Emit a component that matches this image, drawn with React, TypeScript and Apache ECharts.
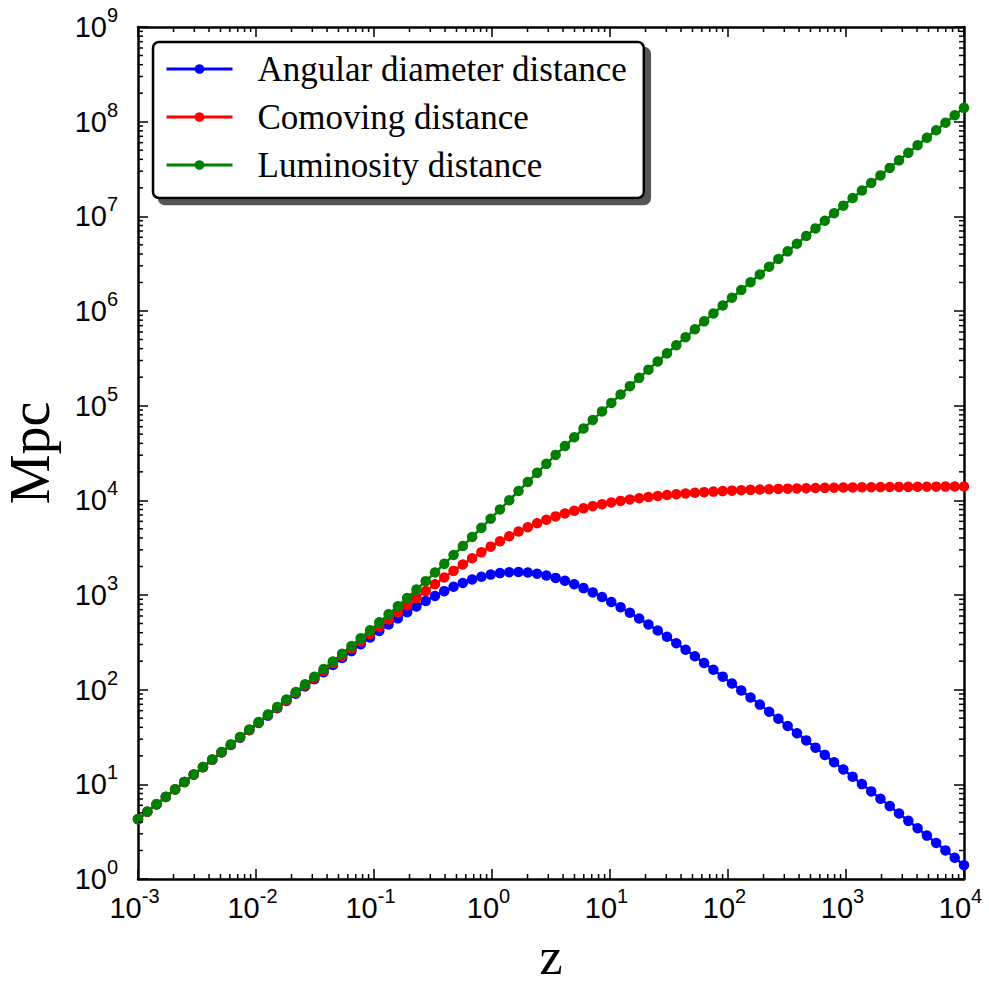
import React, { useEffect, useRef } from 'react';
import * as echarts from 'echarts';

// Redshift sample points (log-spaced)
const zValues = [
  0.001, 0.0011985, 0.0014365, 0.0017217, 0.0020635, 0.0024732, 0.0029642, 0.0035527, 0.0042581, 0.0051035,
  0.0061168, 0.0073312, 0.0087866, 0.010531, 0.012622, 0.015128, 0.018131, 0.021731, 0.026045, 0.031216,
  0.037414, 0.044842, 0.053744, 0.064413, 0.077205, 0.092532, 0.1109, 0.13292, 0.15931, 0.19094,
  0.22884, 0.27428, 0.32874, 0.39401, 0.47223, 0.56599, 0.67836, 0.81304, 0.97445, 1.1679,
  1.3998, 1.6778, 2.0108, 2.41, 2.8885, 3.462, 4.1493, 4.9731, 5.9605, 7.1438,
  8.5622, 10.262, 12.3, 14.742, 17.668, 21.176, 25.38, 30.42, 36.459, 43.698,
  52.373, 62.769, 75.233, 90.171, 108.07, 129.53, 155.24, 186.07, 223.01, 267.28,
  320.35, 383.95, 460.18, 551.54, 661.05, 792.29, 949.58, 1138.1, 1364, 1634.8,
  1959.4, 2348.5, 2814.8, 3373.6, 4043.4, 4846.1, 5808.2, 6961.6, 8343.7, 10000,
];

const angularDiameterDistance = [
  4.2774, 5.1253, 6.1413, 7.358, 8.8151, 10.56, 12.649, 15.149, 18.142, 21.721,
  26.001, 31.117, 37.229, 44.525, 53.231, 63.606, 75.954, 90.641, 108.07, 128.73,
  153.14, 181.93, 215.76, 255.36, 301.53, 355.04, 416.65, 487.08, 566.83, 656.19,
  755.0, 862.64, 977.75, 1098.1, 1220.6, 1341.3, 1455.3, 1557.2, 1641.6, 1703.6,
  1739.3, 1746.7, 1725.6, 1677.7, 1606.4, 1516.2, 1412.2, 1299.3, 1182.4, 1065.4,
  951.5, 843.13, 741.87, 648.8, 564.36, 488.54, 421.15, 361.71, 309.66, 264.35,
  225.1, 191.26, 162.18, 137.29, 116.05, 97.954, 82.588, 69.553, 58.523, 49.202,
  41.333, 34.7, 29.113, 24.413, 20.462, 17.143, 14.357, 12.019, 10.06, 8.4167,
  7.0401, 5.8872, 4.9222, 4.1147, 3.439, 2.8739, 2.4013, 2.006, 1.6757, 1.3997,
];

const comovingDistance = [
  4.2817, 5.1314, 6.1501, 7.3707, 8.8333, 10.586, 12.686, 15.203, 18.219, 21.832,
  26.16, 31.346, 37.556, 44.994, 53.903, 64.568, 77.331, 92.61, 110.89, 132.75,
  158.87, 190.09, 227.36, 271.81, 324.81, 387.89, 462.85, 551.82, 657.14, 781.48,
  927.77, 1099.3, 1299.2, 1530.7, 1797.0, 2100.5, 2442.5, 2823.2, 3241.2, 3693.2,
  4174.0, 4677.4, 5195.4, 5720.9, 6246.4, 6765.2, 7271.6, 7761.1, 8230.2, 8676.5,
  9098.5, 9495.3, 9866.9, 10213, 10535, 10834, 11110, 11365, 11600, 11816,
  12014, 12196, 12364, 12517, 12657, 12786, 12904, 13011, 13110, 13200,
  13282, 13358, 13426, 13489, 13547, 13599, 13647, 13691, 13731, 13768,
  13801, 13832, 13860, 13885, 13909, 13930, 13949, 13967, 13983, 13998,
];

const luminosityDistance = [
  4.286, 5.1375, 6.1589, 7.3834, 8.8515, 10.612, 12.724, 15.257, 18.296, 21.943,
  26.32, 31.575, 37.886, 45.468, 54.583, 65.545, 78.733, 94.623, 113.77, 136.89,
  164.82, 198.61, 239.58, 289.32, 349.89, 423.78, 514.19, 625.17, 761.82, 930.7,
  1140.1, 1400.8, 1726.3, 2133.9, 2645.7, 3289.3, 4099.4, 5118.6, 6399.7, 8006.4,
  10017, 12525, 15642, 19508, 24289, 30186, 37444, 46358, 57286, 70659,
  87001, 106936, 131230, 160779, 196674, 240253, 293082, 357084, 434509, 528135,
  641230, 777750, 942514, 1141178, 1380532, 1668944, 2016058, 2434024, 2936726, 3541269,
  4268267, 5142008, 6191987, 7453433, 8968725, 10788268, 12972946, 15595760, 18743361, 22521694,
  27056265, 32498284, 39026706, 46857671, 56252346, 67520103, 81034854, 97248027, 116687278, 139995998,
];

const seriesNames = ['Angular diameter distance', 'Comoving distance', 'Luminosity distance'];
const seriesColors = ['#0000ff', '#ff0000', '#008000'];
const seriesValues = [angularDiameterDistance, comovingDistance, luminosityDistance];

const xMin = 1e-3;
const xMax = 1e4;
const yMin = 1;
const yMax = 1e9;
const xDecades = [-3, -2, -1, 0, 1, 2, 3];
const yDecades = [0, 1, 2, 3, 4, 5, 6, 7, 8];
const minorMultipliers = [2, 3, 4, 5, 6, 7, 8, 9];

const xMinorTicks: number[] = [];
xDecades.forEach((e) => minorMultipliers.forEach((m) => xMinorTicks.push(m * Math.pow(10, e))));
const yMinorTicks: number[] = [];
yDecades.forEach((e) => minorMultipliers.forEach((m) => yMinorTicks.push(m * Math.pow(10, e))));

const expOf = (v: number) => Math.round(Math.log10(v));

export default function App() {
  const ref = useRef<HTMLDivElement>(null);

  useEffect(() => {
    if (!ref.current) return;
    const chart = echarts.init(ref.current, null, { renderer: 'svg' });

    const tickStyle = { color: '#000', width: 1.5 };
    const axisLineStyle = { color: '#000', width: 2.5 };
    const labelFont = 'Liberation Sans';
    const serifFont = 'Liberation Serif';

    const lineSeries = seriesNames.map((name, k) => ({
      name,
      type: 'line',
      xAxisIndex: 0,
      yAxisIndex: 0,
      data: zValues.map((z, i) => [z, seriesValues[k][i]]),
      symbol: 'circle',
      symbolSize: 10.5,
      showSymbol: true,
      showAllSymbol: true,
      lineStyle: { color: seriesColors[k], width: 2.5 },
      itemStyle: { color: seriesColors[k] },
      color: seriesColors[k],
      z: 3 + k,
      silent: true,
    }));

    const tickLen = 5;
    const minorStyle = { stroke: '#000', lineWidth: 1.5 };

    const xMinorSeries = {
      type: 'custom',
      xAxisIndex: 0,
      yAxisIndex: 0,
      silent: true,
      z: 10,
      data: xMinorTicks.map((v) => [v, 10]),
      renderItem: (params: any, api: any) => {
        const cs = params.coordSys;
        const p = api.coord([api.value(0), 10]);
        const x = p[0];
        const top = cs.y;
        const bottom = cs.y + cs.height;
        return {
          type: 'group',
          children: [
            { type: 'line', shape: { x1: x, y1: bottom, x2: x, y2: bottom - tickLen }, style: minorStyle },
            { type: 'line', shape: { x1: x, y1: top, x2: x, y2: top + tickLen }, style: minorStyle },
          ],
        };
      },
    };

    const yMinorSeries = {
      type: 'custom',
      xAxisIndex: 0,
      yAxisIndex: 0,
      silent: true,
      z: 10,
      data: yMinorTicks.map((v) => [1, v]),
      renderItem: (params: any, api: any) => {
        const cs = params.coordSys;
        const p = api.coord([1, api.value(1)]);
        const y = p[1];
        const left = cs.x;
        const right = cs.x + cs.width;
        return {
          type: 'group',
          children: [
            { type: 'line', shape: { x1: left, y1: y, x2: left + tickLen, y2: y }, style: minorStyle },
            { type: 'line', shape: { x1: right, y1: y, x2: right - tickLen, y2: y }, style: minorStyle },
          ],
        };
      },
    };

    const option: any = {
      animation: false,
      backgroundColor: '#fff',
      grid: {
        left: 138,
        right: 25,
        top: 27,
        bottom: 105,
        containLabel: false,
        outerBoundsMode: 'none',
      },
      legend: {
        show: true,
        data: seriesNames,
        orient: 'vertical',
        left: 153,
        top: 42,
        itemWidth: 66,
        itemHeight: 12,
        itemGap: 12,
        padding: [9, 17, 15, 12],
        backgroundColor: '#fff',
        borderColor: '#000',
        borderWidth: 2.5,
        borderRadius: 6,
        shadowColor: '#555',
        shadowBlur: 0,
        shadowOffsetX: 6,
        shadowOffsetY: 6,
        selectedMode: false,
        lineStyle: { width: 3 },
        textStyle: {
          fontFamily: serifFont,
          fontSize: 35,
          lineHeight: 36,
          color: '#000',
          padding: [0, 0, 0, 20],
        },
      },
      xAxis: [
        {
          type: 'log',
          logBase: 10,
          min: xMin,
          max: xMax,
          position: 'bottom',
          name: 'z',
          nameLocation: 'middle',
          nameGap: 57,
          nameTextStyle: { fontFamily: serifFont, fontSize: 52, lineHeight: 40, color: '#000' },
          axisLine: { show: true, onZero: false, lineStyle: axisLineStyle },
          axisTick: { show: true, inside: true, length: 10, lineStyle: tickStyle },
          minorTick: { show: false },
          splitLine: { show: false },
          axisLabel: {
            show: true,
            margin: 7,
            showMinLabel: true,
            showMaxLabel: true,
            formatter: (v: number) => `{b|10}{s|${expOf(v)}}`,
            rich: {
              b: { fontFamily: labelFont, fontSize: 29, lineHeight: 44, verticalAlign: 'middle', color: '#000' },
              s: { fontFamily: labelFont, fontSize: 20, lineHeight: 20, verticalAlign: 'top', color: '#000', padding: [0, 7, 0, 0] },
            },
          },
        },
        {
          type: 'log',
          logBase: 10,
          min: xMin,
          max: xMax,
          position: 'top',
          axisLine: { show: true, onZero: false, lineStyle: axisLineStyle },
          axisTick: { show: true, inside: true, length: 10, lineStyle: tickStyle },
          axisLabel: { show: false },
          splitLine: { show: false },
        },
      ],
      yAxis: [
        {
          type: 'log',
          logBase: 10,
          min: yMin,
          max: yMax,
          position: 'left',
          name: 'Mpc',
          nameLocation: 'middle',
          nameGap: 87,
          nameRotate: 90,
          nameTextStyle: { fontFamily: serifFont, fontSize: 56, lineHeight: 42, color: '#000' },
          axisLine: { show: true, onZero: false, lineStyle: axisLineStyle },
          axisTick: { show: true, inside: true, length: 10, lineStyle: tickStyle },
          minorTick: { show: false },
          splitLine: { show: false },
          axisLabel: {
            show: true,
            margin: 20,
            showMinLabel: true,
            showMaxLabel: true,
            formatter: (v: number) => `{b|10}{s|${expOf(v)}}`,
            rich: {
              b: { fontFamily: labelFont, fontSize: 29, lineHeight: 44, verticalAlign: 'middle', color: '#000' },
              s: { fontFamily: labelFont, fontSize: 20, lineHeight: 20, verticalAlign: 'top', color: '#000' },
            },
          },
        },
        {
          type: 'log',
          logBase: 10,
          min: yMin,
          max: yMax,
          position: 'right',
          axisLine: { show: true, onZero: false, lineStyle: axisLineStyle },
          axisTick: { show: true, inside: true, length: 10, lineStyle: tickStyle },
          axisLabel: { show: false },
          splitLine: { show: false },
        },
      ],
      series: [...lineSeries, xMinorSeries, yMinorSeries],
    };

    chart.setOption(option);
    return () => {
      chart.dispose();
    };
  }, []);

  return (
    <div
      ref={ref}
      style={{ position: 'fixed', left: 0, top: 0, width: 989, height: 984, background: '#fff' }}
    />
  );
}
